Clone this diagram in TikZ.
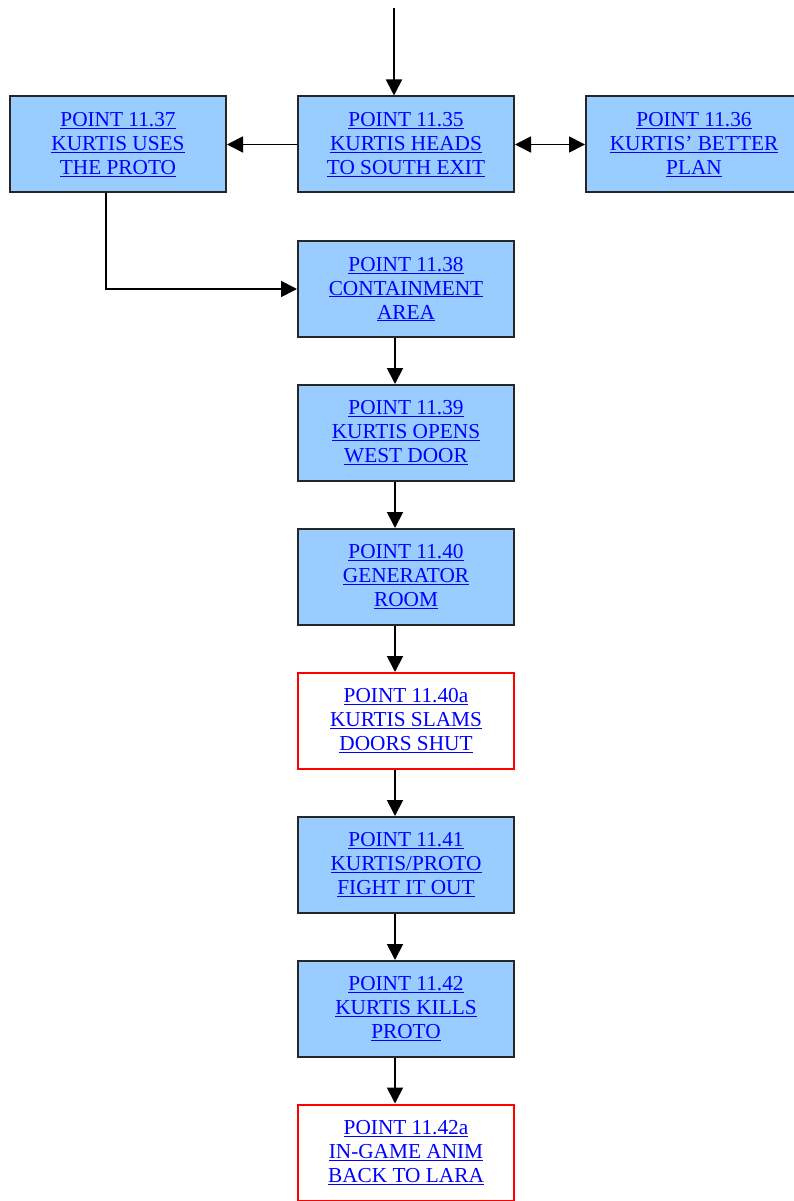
\documentclass[tikz,border=0pt]{standalone}
\usepackage{fontspec}
\setmainfont{Liberation Serif}
\usetikzlibrary{arrows.meta}
\definecolor{boxblue}{HTML}{99CCFF}
\definecolor{linkblue}{HTML}{0000FF}
\definecolor{redline}{HTML}{FF0000}
\newcommand{\ulline}[1]{\underline{#1}}
\tikzset{
  base/.style={rectangle, minimum width=216pt, minimum height=96pt, inner sep=0pt,
    align=center, text=linkblue, font=\fontsize{21.3}{24}\selectfont, line width=2pt},
  bluebox/.style={base, draw=black!85, fill=boxblue},
  redbox/.style={base, draw=redline, fill=white},
  arr/.style={line width=1.8pt, -{Triangle[length=16pt,width=16pt]}},
  darr/.style={line width=1.8pt, {Triangle[length=16pt,width=16pt]}-{Triangle[length=16pt,width=16pt]}}
}
\begin{document}
\begin{tikzpicture}[x=1pt,y=-1pt]
\useasboundingbox (0,0) rectangle (793,1201);
\node[bluebox] (p35) at (406,144.5) {\ulline{POINT 11.35}\\\ulline{KURTIS HEADS}\\\ulline{TO SOUTH EXIT}};
\node[bluebox] (p37) at (118,144.5) {\ulline{POINT 11.37}\\\ulline{KURTIS USES}\\\ulline{THE PROTO}};
\node[bluebox] (p36) at (694,144.5) {\ulline{POINT 11.36}\\\ulline{KURTIS’ BETTER}\\\ulline{PLAN}};
\node[bluebox] (p38) at (406,289) {\ulline{POINT 11.38}\\\ulline{CONTAINMENT}\\\ulline{AREA}};
\node[bluebox] (p39) at (406,433) {\ulline{POINT 11.39}\\\ulline{KURTIS OPENS}\\\ulline{WEST DOOR}};
\node[bluebox] (p40) at (406,577) {\ulline{POINT 11.40}\\\ulline{GENERATOR}\\\ulline{ROOM}};
\node[redbox] (p40a) at (406,721) {\ulline{POINT 11.40a}\\\ulline{KURTIS SLAMS}\\\ulline{DOORS SHUT}};
\node[bluebox] (p41) at (406,865) {\ulline{POINT 11.41}\\\ulline{KURTIS/PROTO}\\\ulline{FIGHT IT OUT}};
\node[bluebox] (p42) at (406,1009) {\ulline{POINT 11.42}\\\ulline{KURTIS KILLS}\\\ulline{PROTO}};
\node[redbox] (p42a) at (406,1152.5) {\ulline{POINT 11.42a}\\\ulline{IN-GAME ANIM}\\\ulline{BACK TO LARA}};
\coordinate (top) at (394,8);
\coordinate (bend) at (106,289);
\draw[arr] (top) -- (top |- p35.north);
\draw[arr] (p35.west) -- (p37.east);
\draw[darr] (p35.east) -- (p36.west);
\draw[arr] (p37.south -| bend) -- (bend) -- (p38.west);
\draw[arr] ([xshift=-11pt]p38.south) -- ([xshift=-11pt]p39.north);
\draw[arr] ([xshift=-11pt]p39.south) -- ([xshift=-11pt]p40.north);
\draw[arr] ([xshift=-11pt]p40.south) -- ([xshift=-11pt]p40a.north);
\draw[arr] ([xshift=-11pt]p40a.south) -- ([xshift=-11pt]p41.north);
\draw[arr] ([xshift=-11pt]p41.south) -- ([xshift=-11pt]p42.north);
\draw[arr] ([xshift=-11pt]p42.south) -- ([xshift=-11pt]p42a.north);
\end{tikzpicture}
\end{document}
